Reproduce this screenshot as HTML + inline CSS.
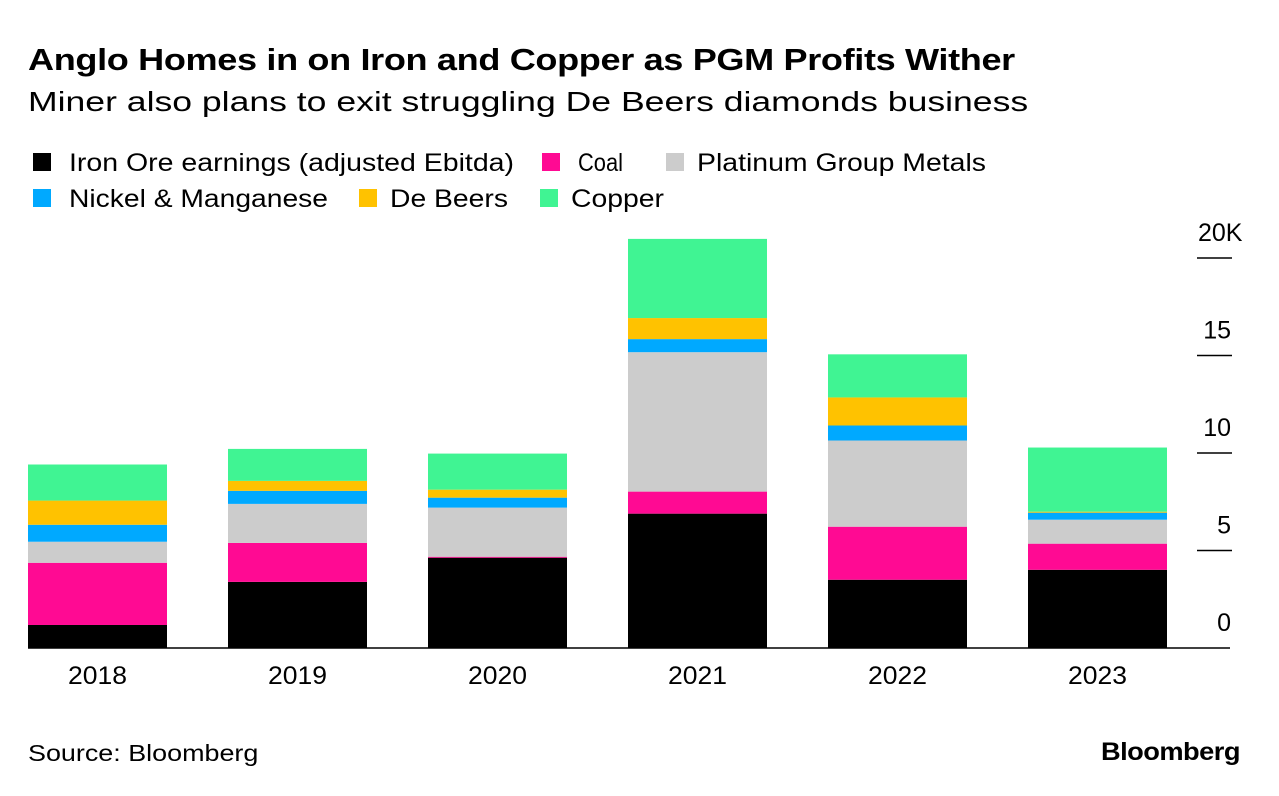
<!DOCTYPE html>
<html><head><meta charset="utf-8"><style>
body{margin:0;background:#fff;font-family:"Liberation Sans",sans-serif;}
#wrap{position:relative;width:1279px;height:796px;overflow:hidden;}
.t{position:absolute;white-space:nowrap;color:#000;transform-origin:0 0;}
</style></head><body>
<div id="wrap">
<div class="t" style="left:28px;top:42px;font-size:31px;font-weight:bold;letter-spacing:-0.3px;transform:scaleX(1.164)">Anglo Homes in on Iron and Copper as PGM Profits Wither</div>
<div class="t" style="left:28px;top:86px;font-size:28px;transform:scaleX(1.27)">Miner also plans to exit struggling De Beers diamonds business</div>
<svg id="chart" width="1279" height="796" style="position:absolute;left:0;top:0"></svg>
<div class="t" style="left:28px;top:740px;font-size:23px;transform:scaleX(1.17)">Source: Bloomberg</div>
<div class="t" style="left:1101px;top:738px;font-size:25px;font-weight:bold;letter-spacing:-0.5px;transform:scaleX(1.09)">Bloomberg</div>
</div>
<script>
const categories=["2018","2019","2020","2021","2022","2023"];
const seriesNames=["Iron Ore earnings (adjusted Ebitda)","Coal","Platinum Group Metals","Nickel & Manganese","De Beers","Copper"];
const ironOre=[1.18,3.39,4.63,6.89,3.50,4.01];
const coal=[3.19,2.0,0.05,1.13,2.72,1.34];
const pgm=[1.08,2.0,2.52,7.15,4.42,1.23];
const nickel=[0.87,0.67,0.51,0.67,0.77,0.36];
const deBeers=[1.24,0.51,0.41,1.08,1.44,0.05];
const copper=[1.85,1.64,1.85,4.06,2.21,3.29];
const tickValues=[0,5,10,15,20];
const tickLabels=["0","5","10","15","20"];
const colors=["#000000","#ff0a93","#cccccc","#00a9ff","#ffc200","#40f493"];
const series=[ironOre,coal,pgm,nickel,deBeers,copper];
const NS="http://www.w3.org/2000/svg";
const svg=document.getElementById('chart');
const y0=648,pxPer=(648-258)/20;
const y=v=>y0-v*pxPer;
const x=i=>28+i*200;
const bw=139;
function mk(t,a){const e=document.createElementNS(NS,t);for(const k in a)e.setAttribute(k,a[k]);svg.appendChild(e);return e;}
// legend layout (positions only)
const legLayout=[[33,162,69,514],[542,162,578,623],[666,162,697,986],[33,198,69,328],[359,198,390,508],[540,198,571,664]];
seriesNames.forEach((n,si)=>{const L=legLayout[si];
 const g=document.createElementNS(NS,'g');svg.appendChild(g);
 
 
 const s=document.createElementNS(NS,'rect');s.setAttribute('x',L[0]);s.setAttribute('y',L[1]-9);s.setAttribute('width',18);s.setAttribute('height',18);s.setAttribute('fill',colors[si]);g.appendChild(s);
 const t=document.createElementNS(NS,'text');t.setAttribute('x',L[2]);t.setAttribute('y',L[1]+9);t.setAttribute('font-size','25');t.setAttribute('font-family','Liberation Sans');t.setAttribute('textLength',L[3]-L[2]);t.setAttribute('lengthAdjust','spacingAndGlyphs');t.textContent=n;g.appendChild(t);
});
// ticks
tickValues.forEach((v,i)=>{
 if(v>0){const l=mk('line',{x1:1197,x2:1232,y1:y(v),y2:y(v),stroke:'#000','stroke-width':1.5});
 
 }
 const t=mk('text',{x:v===20?1198:1231,y:y(v)-17,'text-anchor':v===20?'start':'end','font-size':'25','font-family':'Liberation Sans'});
 
 
 t.textContent=tickLabels[i]+(v===20?'K':'');
});
// bars
categories.forEach((c,i)=>{let acc=0;
 series.forEach((s,si)=>{const v=s[i];
  const r=mk('rect',{x:x(i),y:y(acc+v),width:bw,height:Math.max(0,y(acc)-y(acc+v)),fill:colors[si]});
  
  
  acc+=v;});
 const t=mk('text',{x:x(i)+bw/2,y:684,'text-anchor':'middle','font-size':'25','font-family':'Liberation Sans',textLength:59,lengthAdjust:'spacingAndGlyphs'});
 
 
 t.textContent=c;
});
const base=mk('line',{x1:28,x2:1230,y1:y0,y2:y0,stroke:'#000','stroke-width':1.5});


</script>
</body></html>
